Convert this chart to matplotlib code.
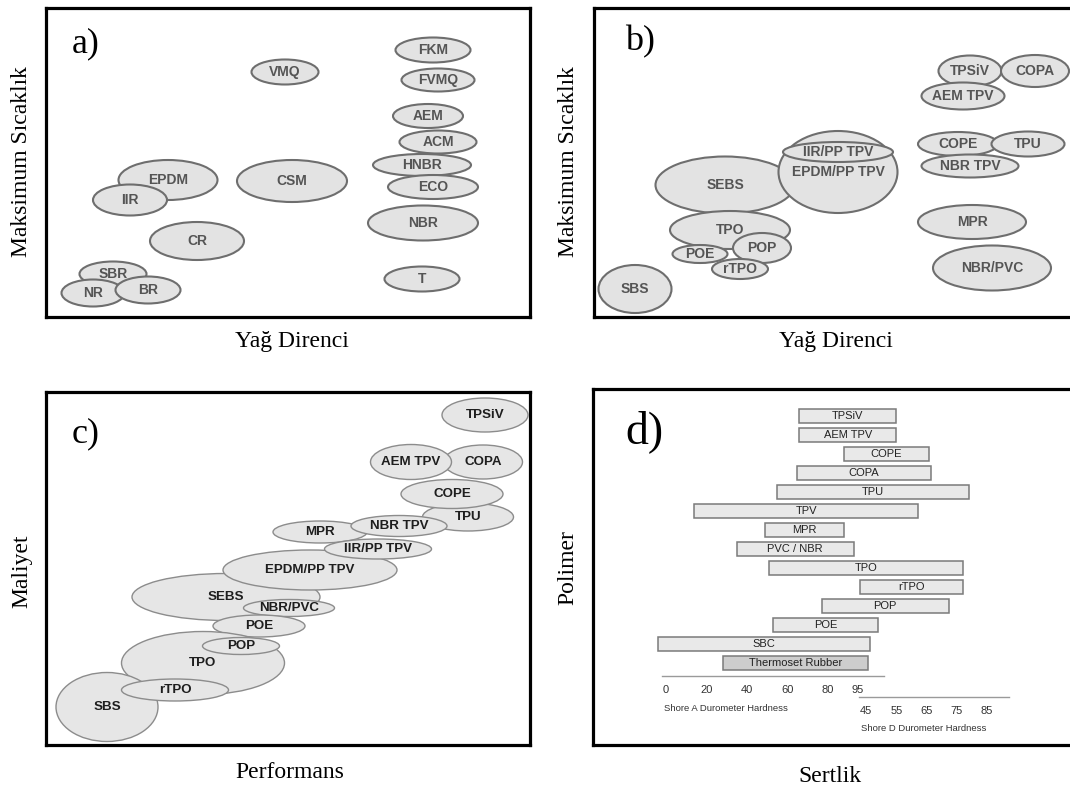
import matplotlib
matplotlib.use('Agg')
import matplotlib.pyplot as plt
from matplotlib.patches import Ellipse

W, H = 1070, 794

# panel a: oil resistance vs. max temperature (rubbers)
a_names = ['VMQ', 'FKM', 'FVMQ', 'AEM', 'ACM', 'HNBR', 'ECO', 'NBR', 'T',
           'EPDM', 'IIR', 'CSM', 'CR', 'SBR', 'NR', 'BR']
a_x = [239, 387, 392, 382, 392, 376, 387, 377, 376, 122, 84, 246, 151, 67, 47, 102]
a_y = [245, 267, 237, 201, 175, 152, 130, 94, 38, 137, 117, 136, 76, 43, 24, 27]
a_w = [67, 75, 73, 70, 77, 98, 90, 110, 75, 99, 74, 110, 94, 67, 63, 65]
a_h = [25, 25, 23, 24, 23, 22, 24, 35, 25, 40, 31, 42, 38, 25, 27, 27]

# panel b: oil resistance vs. max temperature (TPEs)
b_names = ['TPSiV', 'COPA', 'AEM TPV', 'COPE', 'TPU', 'NBR TPV', 'MPR', 'NBR/PVC',
           'SEBS', 'EPDM/PP TPV', 'IIR/PP TPV', 'TPO', 'POE', 'POP', 'rTPO', 'SBS']
b_x = [376, 441, 369, 364, 434, 376, 378, 398, 131, 244, 244, 136, 106, 168, 146, 41]
b_y = [246, 246, 221, 173, 173, 151, 95, 49, 132, 145, 165, 87, 63, 69, 48, 28]
b_w = [63, 68, 83, 80, 73, 97, 108, 118, 139, 119, 110, 120, 55, 58, 56, 73]
b_h = [31, 32, 27, 24, 25, 23, 34, 45, 57, 82, 20, 38, 18, 30, 20, 48]

# panel c: performance vs. cost
c_names = ['TPSiV', 'COPA', 'AEM TPV', 'TPU', 'COPE', 'MPR', 'NBR TPV', 'SEBS',
           'EPDM/PP TPV', 'IIR/PP TPV', 'NBR/PVC', 'POE', 'TPO', 'POP', 'SBS', 'rTPO']
c_x = [439, 437, 365, 422, 406, 274, 353, 180, 264, 332, 243, 213, 157, 195, 61, 129]
c_y = [330, 283, 283, 228, 251, 213, 219, 148, 175, 196, 137, 119, 82, 99, 38, 55]
c_w = [86, 79, 81, 91, 102, 94, 96, 188, 174, 107, 91, 92, 163, 77, 102, 107]
c_h = [34, 34, 35, 28, 29, 22, 21, 47, 40, 20, 17, 22, 63, 17, 69, 22]

# panel d: hardness ranges (position on a Shore A based scale)
d_names = ['TPSiV', 'AEM TPV', 'COPE', 'COPA', 'TPU', 'TPV', 'MPR', 'PVC / NBR',
           'TPO', 'rTPO', 'POP', 'POE', 'SBC', 'Thermoset Rubber']
d_start = [66, 66, 88, 65, 55, 14, 49, 35, 51, 96, 77, 53, -4, 28]
d_end = [114, 114, 130, 131, 150, 125, 88, 93, 147, 147, 140, 105, 101, 100]
shore_a_ticks = [0, 20, 40, 60, 80, 95]
shore_d_ticks = [45, 55, 65, 75, 85]

serif = 'Liberation Serif'
sans = ['Liberation Sans', 'DejaVu Sans']

fig = plt.figure(figsize=(W / 100, H / 100), dpi=100)


def panel(x0, x1, top, bottom):
    ax = fig.add_axes([x0 / W, 1 - bottom / H, (x1 - x0) / W, (bottom - top) / H])
    ax.set_xticks([])
    ax.set_yticks([])
    for s in ax.spines.values():
        s.set_linewidth(2.3)
        s.set_color('black')
        s.set_zorder(20)
    return ax


def bubbles(ax, names, xs, ys, ws, hs, face, edge, lw, tcolor, fsize):
    for i, n in enumerate(names):
        z = 1 + i * 0.01
        ax.add_patch(Ellipse((xs[i], ys[i]), ws[i], hs[i], facecolor=face,
                             edgecolor=edge, linewidth=lw, zorder=z))
        ax.text(xs[i], ys[i], n, ha='center', va='center', color=tcolor,
                fontsize=fsize, fontweight='bold', family=sans, zorder=z + 0.005)


def figtext(x, y, s, **kw):
    fig.text(x / W, 1 - y / H, s, ha='center', va='center', family=serif, **kw)


# a)
ax = panel(46, 530, 8, 317)
ax.set_xlim(0, 484)
ax.set_ylim(0, 309)
bubbles(ax, a_names, a_x, a_y, a_w, a_h, '#e3e3e3', '#6e6e6e', 1.5, '#555555', 10)
ax.text(26, 265, 'a)', family=serif, fontsize=26, va='baseline')

# b)
ax = panel(594, 1074, 8, 317)
ax.set_xlim(0, 480)
ax.set_ylim(0, 309)
bubbles(ax, b_names, b_x, b_y, b_w, b_h, '#e3e3e3', '#6e6e6e', 1.5, '#555555', 10)
ax.text(31, 267, 'b)', family=serif, fontsize=26, va='baseline')

# c)
ax = panel(46, 530, 392, 745)
ax.set_xlim(0, 484)
ax.set_ylim(0, 353)
bubbles(ax, c_names, c_x, c_y, c_w, c_h, '#e6e6e6', '#8c8c8c', 1.0, '#1e1e1e', 9.6)
ax.text(26, 303, 'c)', family=serif, fontsize=26, va='baseline')

# d)
ax = panel(593, 1074, 389, 745)
ax.set_xlim((593 - 666) / 2.02, (1074 - 666) / 2.02)
ax.set_ylim((745 - 416) / 19, (389 - 416) / 19)
rows = list(range(len(d_names)))
widths = [e - s for s, e in zip(d_start, d_end)]
faces = ['#e9e9e9'] * (len(d_names) - 1) + ['#cdcdcd']
ax.barh(rows, widths, left=d_start, height=0.74, color=faces,
        edgecolor='#7a7a7a', linewidth=1.1)
for r, n, s, e in zip(rows, d_names, d_start, d_end):
    ax.text((s + e) / 2, r, n, ha='center', va='center', fontsize=8,
            family=sans, color='#222222')

ax.plot([-2, 108], [13.68, 13.68], color='#9a9a9a', lw=1.0)
for t in shore_a_ticks:
    ax.text(t, 14.42, str(t), ha='center', va='center', fontsize=8, family=sans, color='#333333')
ax.text(-1, 15.42, 'Shore A Durometer Hardness', ha='left', va='center', fontsize=6.8,
        family=sans, color='#333333')


def d_to_a(d):
    return 99 + (d - 45) * 1.5


ax.plot([95.5, 170], [14.79, 14.79], color='#9a9a9a', lw=1.0)
for t in shore_d_ticks:
    ax.text(d_to_a(t), 15.53, str(t), ha='center', va='center', fontsize=8, family=sans,
            color='#333333')
ax.text(96.5, 16.47, 'Shore D Durometer Hardness', ha='left', va='center', fontsize=6.8,
        family=sans, color='#333333')
ax.text((625 - 666) / 2.02, (443 - 416) / 19, 'd)', family=serif, fontsize=33, va='baseline')

# axis titles
figtext(22, 162, 'Maksimum Sıcaklık', fontsize=17, rotation=90)
figtext(568, 162, 'Maksimum Sıcaklık', fontsize=17, rotation=90)
figtext(292, 341, 'Yağ Direnci', fontsize=17)
figtext(836, 341, 'Yağ Direnci', fontsize=17)
figtext(22, 571, 'Maliyet', fontsize=17, rotation=90)
figtext(290, 772, 'Performans', fontsize=17)
figtext(568, 568, 'Polimer', fontsize=17, rotation=90)
figtext(830, 776, 'Sertlik', fontsize=17)

fig.savefig('out.png', dpi=100)
